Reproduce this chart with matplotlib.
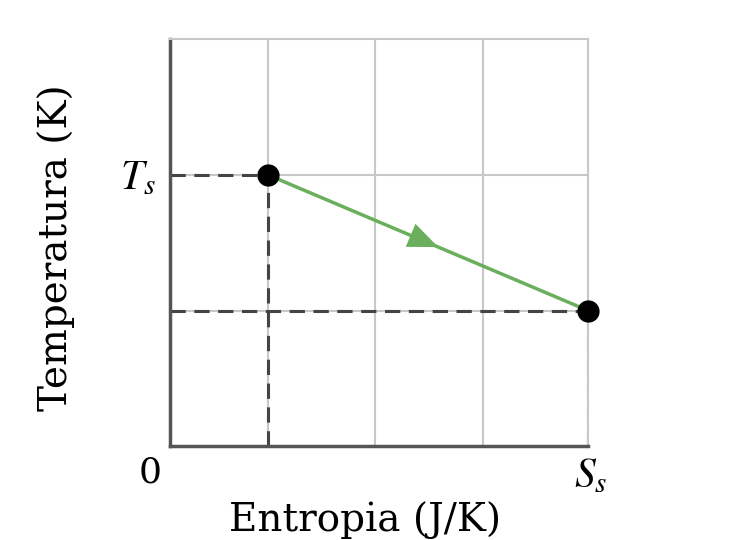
import matplotlib.pyplot as plt

plt.rcParams['font.family'] = ['DejaVu Serif']
plt.rcParams['mathtext.fontset'] = 'stix'

# estado inicial y final (unidades de rejilla)
S = [0.94, 4.0]
T = [2.0, 1.0]
grid_x = [0.94, 1.96, 3.0]
grid_y = [1.0, 2.0]
x_label = 'Entropia (J/K)'
y_label = 'Temperatura (K)'

fig = plt.figure(figsize=(7.48, 5.40), dpi=100)
ax = fig.add_axes([0.227, 0.174, 0.559, 0.753])
ax.set_xlim(0, 4)
ax.set_ylim(0, 3)

# rejilla
for gx in grid_x:
    ax.axvline(gx, color='#c8c8c8', lw=1.5, zorder=0)
for gy in grid_y:
    ax.axhline(gy, color='#c8c8c8', lw=1.5, zorder=0)

for side in ['top', 'right']:
    ax.spines[side].set_color('#c8c8c8')
    ax.spines[side].set_linewidth(1.5)
for side in ['left', 'bottom']:
    ax.spines[side].set_color('#555555')
    ax.spines[side].set_linewidth(2.5)

# lineas discontinuas
dash = dict(color='#444444', lw=2.2, ls=(0, (5.0, 2.8)), zorder=2)
for s, t in zip(S, T):
    ax.plot([0, s], [t, t], **dash)
    ax.plot([s, s], [0, t], **dash)

# proceso
ax.plot(S, T, color='#6aaf5c', lw=2.5, zorder=3)
f = 0.54
xm = S[0] + f * (S[1] - S[0])
ym = T[0] + f * (T[1] - T[0])
ax.annotate('', xy=(xm, ym), xytext=(S[0], T[0]),
            arrowprops=dict(arrowstyle='-|>,head_length=0.6,head_width=0.25',
                            mutation_scale=36, color='#6aaf5c', lw=0),
            zorder=3)
ax.plot(S, T, 'o', color='black', ms=15, zorder=4, clip_on=False)

ax.set_xticks([])
ax.set_yticks([])

# etiquetas de los ejes
ax.annotate('0', xy=(0, 0), xytext=(-14, -19), textcoords='offset points',
            ha='center', va='center', fontsize=26, annotation_clip=False)
ax.annotate('$S_s$', xy=(S[1], 0), xytext=(2, -21), textcoords='offset points',
            ha='center', va='center', fontsize=30, annotation_clip=False)
ax.annotate('$T_s$', xy=(0, T[0]), xytext=(-23, -2), textcoords='offset points',
            ha='center', va='center', fontsize=30, annotation_clip=False)

fig.text(365 / 748, 1 - 520 / 540, x_label, ha='center', va='center', fontsize=28)
fig.text(56 / 748, 1 - 248 / 540, y_label, ha='center', va='center',
         rotation=90, fontsize=28)

fig.savefig('out.png', dpi=100)
